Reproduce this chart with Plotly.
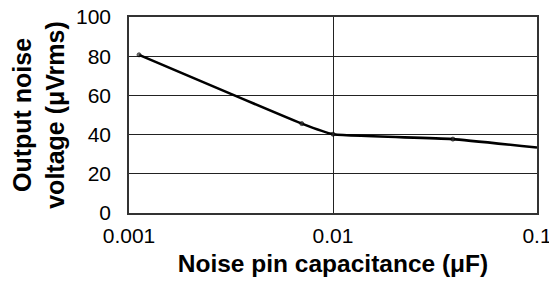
import plotly.graph_objects as go

# Data
cap_uF = [0.00112, 0.00703, 0.01, 0.0387, 0.1]
noise_uVrms = [80.7, 45.6, 40.2, 37.7, 33.4]
marker_sizes = [4, 4, 4, 4, 0]

x_tickvals = [0.001, 0.01, 0.1]
x_ticktext = ["0.001", "0.01", "0.1"]
y_tickvals = [0, 20, 40, 60, 80, 100]

font_family = "Liberation Sans, Arial, Helvetica, sans-serif"

# the page body has an 8px margin, so the figure starts at (8, 8)
fig = go.Figure()
fig.add_trace(go.Scatter(
    x=cap_uF, y=noise_uVrms,
    mode="lines+markers",
    line=dict(color="black", width=2.6, shape="spline", smoothing=0.3),
    marker=dict(color="#333333", size=marker_sizes),
    showlegend=False, hoverinfo="skip", cliponaxis=False,
))

fig.update_layout(
    width=549, height=280,
    margin=dict(l=121, r=20, t=9, b=75),
    paper_bgcolor="white", plot_bgcolor="white",
    font=dict(family=font_family, color="black", size=21),
)

fig.update_xaxes(
    type="log", range=[-3, -1],
    tickvals=x_tickvals, ticktext=x_ticktext,
    showgrid=True, gridcolor="#222222", gridwidth=1.2,
    showline=True, linecolor="#333333", linewidth=1.5, mirror=True,
    ticks="outside", ticklen=3, tickcolor="rgba(0,0,0,0)",
    ticklabeloverflow="allow",
    zeroline=False, automargin=False,
    title=dict(text="<b>Noise pin capacitance (μF)</b>", font=dict(size=24.5), standoff=9),
)
fig.update_yaxes(
    range=[0, 100],
    tickvals=y_tickvals,
    showgrid=True, gridcolor="#222222", gridwidth=1.2,
    showline=True, linecolor="#333333", linewidth=1.5, mirror=True,
    ticks="outside", ticklen=12, tickcolor="rgba(0,0,0,0)",
    ticklabeloverflow="allow",
    zeroline=False, automargin=False,
    title=dict(text="<b>Output noise<br>voltage (μVrms)</b>", font=dict(size=25), standoff=14),
)

fig.write_html("out.html")
